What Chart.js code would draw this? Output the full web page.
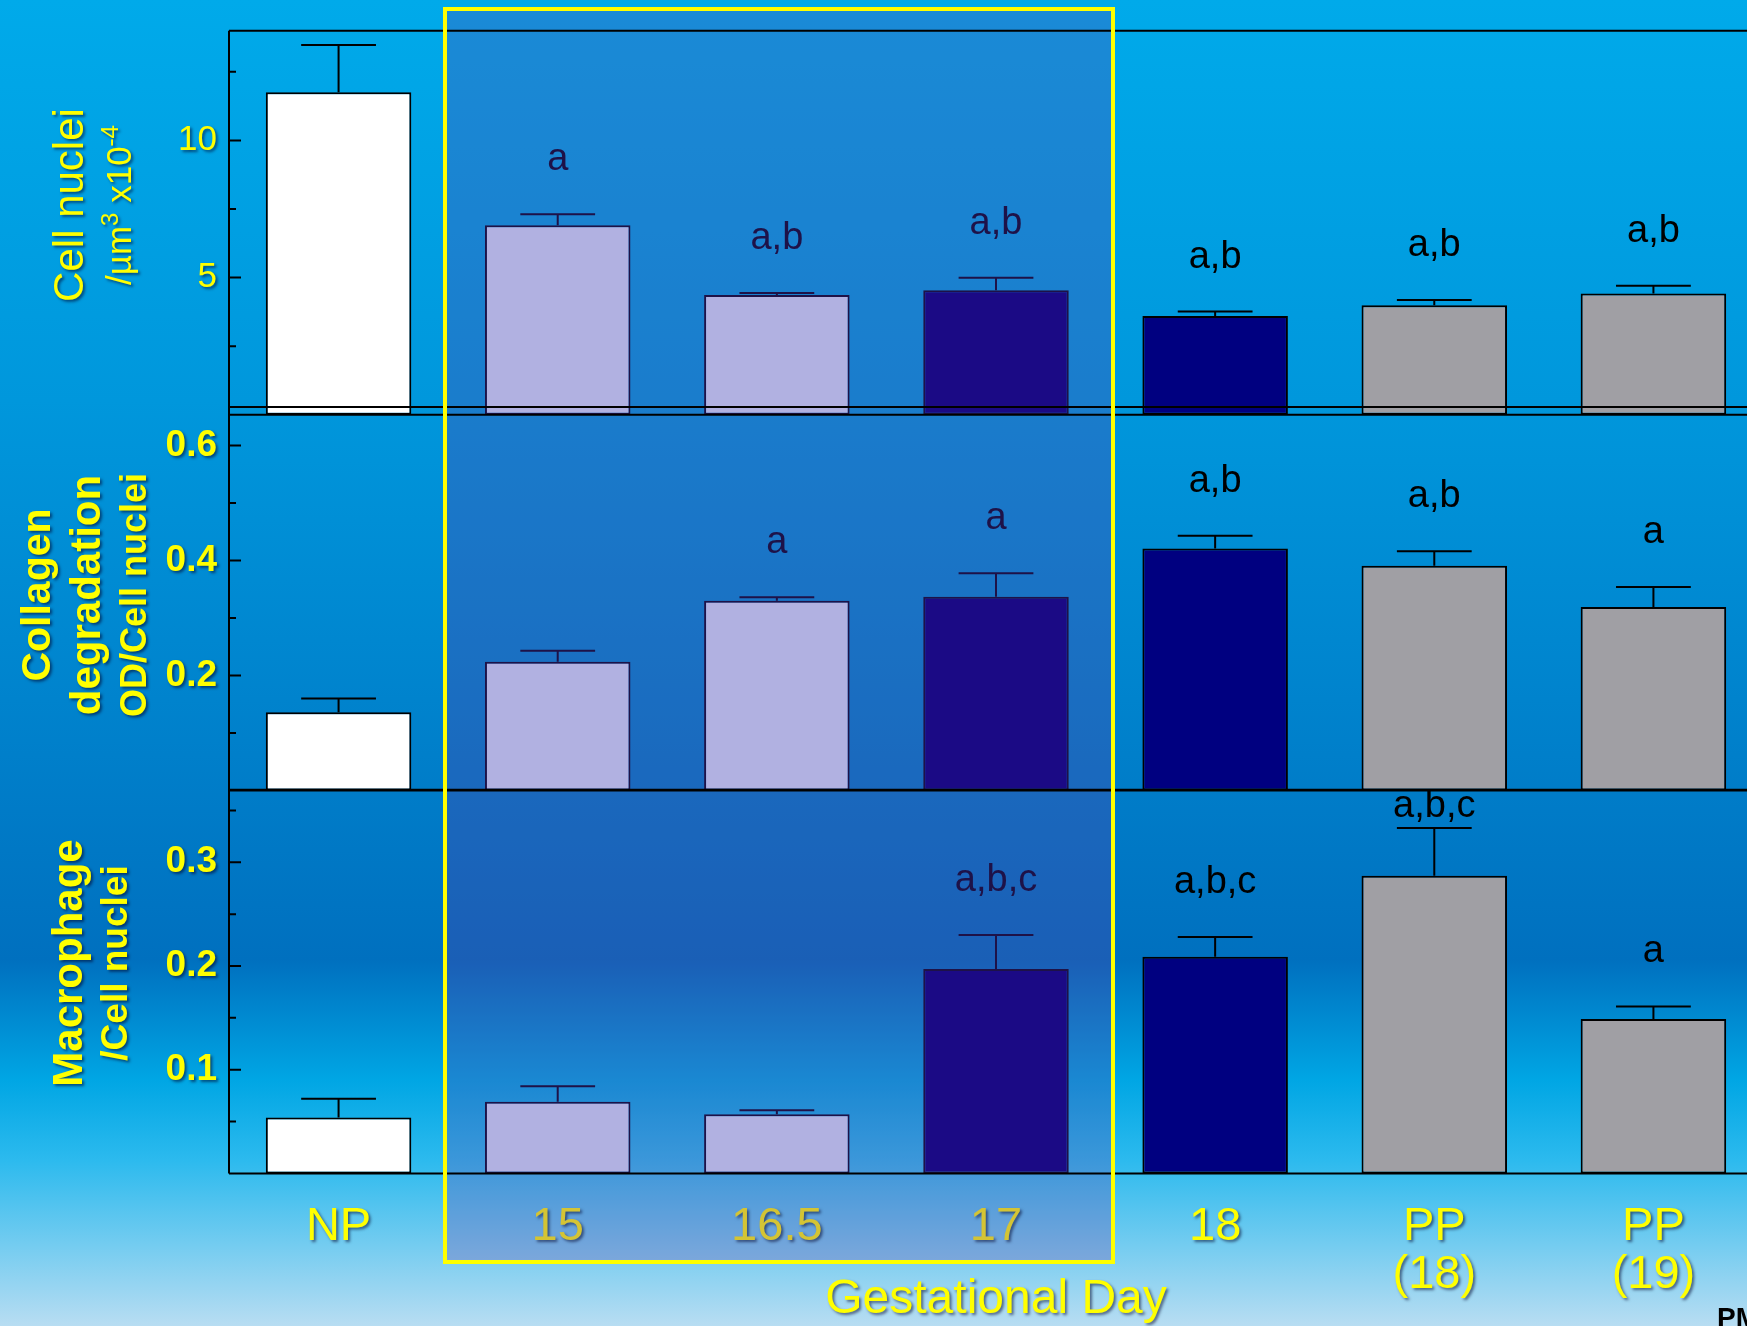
<!DOCTYPE html>
<html>
<head>
<meta charset="utf-8">
<script src="https://cdn.jsdelivr.net/npm/chart.js@4.4.1/dist/chart.umd.min.js"></script>
<style>
    html, body { margin: 0; padding: 0; width: 1747px; height: 1326px; overflow: hidden; }
    body {
        position: relative;
        font-family: 'Liberation Sans', Arial, sans-serif;
        background: linear-gradient(to bottom, #00aaea 0px, #0097dc 400px, #0083cd 700px, #0070bf 960px,
                                    #00a6e4 1080px, #2cbaee 1160px, #b8ddf2 1326px);
    }
    canvas { position: absolute; left: 0; }
    #boxFill { position: absolute; left: 443px; top: 7px; width: 672px; height: 1257px; background: rgba(109, 42, 156, 0.24); }
    #boxEdge { position: absolute; left: 443px; top: 7px; width: 672px; height: 1257px; border: 4px solid #ffff00; box-sizing: border-box; }
    #corner { position: absolute; left: 1717px; top: 1302px; font: bold 28px 'Liberation Sans', Arial, sans-serif; color: #000; }
</style>
</head>
<body>
<div id="boxFill"></div>
<canvas id="nuclei" width="1800" height="430" style="top:0px"></canvas>
<canvas id="collagen" width="1800" height="400" style="top:400px"></canvas>
<canvas id="macro" width="1800" height="560" style="top:780px"></canvas>
<div id="boxEdge"></div>
<div id="corner">PM</div>
<script>
const categories = ['NP', '15', '16.5', '17', '18', ['PP', '(18)'], ['PP', '(19)']];
const boxedDays = ['15', '16.5', '17'];

// cell nuclei /um3 x10^-4
const nucleiMean = [11.76, 6.91, 4.36, 4.54, 3.60, 3.99, 4.42];
const nucleiSem = [1.72, 0.40, 0.08, 0.45, 0.16, 0.19, 0.28];
const nucleiMarks = ['', 'a', 'a,b', 'a,b', 'a,b', 'a,b', 'a,b'];

// collagen degradation OD / cell nuclei
const collagenMean = [0.136, 0.224, 0.330, 0.337, 0.421, 0.391, 0.319];
const collagenSem = [0.024, 0.019, 0.006, 0.041, 0.022, 0.025, 0.035];
const collagenMarks = ['', '', 'a', 'a', 'a,b', 'a,b', 'a'];

// macrophage / cell nuclei
const macroMean = [0.054, 0.069, 0.057, 0.197, 0.209, 0.287, 0.149];
const macroSem = [0.018, 0.015, 0.004, 0.033, 0.019, 0.046, 0.012];
const macroMarks = ['', '', '', 'a,b,c', 'a,b,c', 'a,b,c', 'a'];

const FONT = "'Liberation Sans', Arial, sans-serif";
Chart.defaults.font.family = FONT;

const inBox = categories.map(c => boxedDays.includes(c));
const ink = inBox.map(b => b ? '#1e1248' : '#000000');
const fillColors = ['#ffffff', '#b1b1e1', '#b1b1e1', '#1b0a85', '#000080', '#a09fa4', '#a09fa4'];

const panelPlugin = {
    id: 'panel',
    beforeDraw(chart) {
        const ctx = chart.ctx;
        ctx.shadowColor = 'rgba(0,0,40,0.55)';
        ctx.shadowOffsetX = 2;
        ctx.shadowOffsetY = 2;
        ctx.shadowBlur = 3;
    },
    beforeDatasetsDraw(chart) {
        const ctx = chart.ctx;
        ctx.shadowColor = 'rgba(0,0,0,0)';
        ctx.shadowOffsetX = 0;
        ctx.shadowOffsetY = 0;
        ctx.shadowBlur = 0;
    },
    afterDatasetsDraw(chart, args, opts) {
        const { ctx, chartArea: area } = chart;
        const y = chart.scales.y;
        const ds = chart.data.datasets[0];
        const meta = chart.getDatasetMeta(0);
        ctx.save();

        meta.data.forEach((bar, i) => {
            const top = y.getPixelForValue(ds.data[i] + ds.sem[i]);
            const half = bar.width * 0.257;
            ctx.strokeStyle = ink[i];
            ctx.lineWidth = 2;
            ctx.beginPath();
            ctx.moveTo(bar.x, bar.y);
            ctx.lineTo(bar.x, top);
            ctx.moveTo(bar.x - half, top);
            ctx.lineTo(bar.x + half, top);
            ctx.stroke();
            if (ds.marks[i]) {
                ctx.fillStyle = ink[i];
                ctx.font = '38px ' + FONT;
                ctx.textAlign = 'center';
                ctx.textBaseline = 'alphabetic';
                const base = Math.max(top - 44, area.top + 27);
                ctx.fillText(ds.marks[i], bar.x, base);
            }
        });

        // frame + inward ticks
        ctx.strokeStyle = '#000';
        ctx.lineWidth = 2;
        ctx.beginPath();
        ctx.moveTo(area.left, area.top);
        ctx.lineTo(chart.width, area.top);
        ctx.moveTo(area.left, area.bottom);
        ctx.lineTo(chart.width, area.bottom);
        ctx.moveTo(area.left, area.top);
        ctx.lineTo(area.left, area.bottom);
        for (let k = 0; k * opts.minor <= y.max + 1e-9; k++) {
            const py = y.getPixelForValue(k * opts.minor);
            const len = k % opts.per === 0 ? 12 : 7;
            ctx.moveTo(area.left, py);
            ctx.lineTo(area.left + len, py);
        }
        ctx.stroke();
        ctx.restore();
    },
    afterDraw(chart, args, opts) {
        const ctx = chart.ctx;
        ctx.save();
        ctx.fillStyle = '#ffff00';
        ctx.shadowColor = 'rgba(0,0,40,0.55)';
        ctx.shadowOffsetX = 2;
        ctx.shadowOffsetY = 2;
        ctx.shadowBlur = 3;
        opts.lines.forEach(line => {
            ctx.save();
            ctx.translate(line.x, opts.centerY);
            ctx.rotate(-Math.PI / 2);
            let total = 0;
            line.parts.forEach(p => { ctx.font = p.font; total += ctx.measureText(p.text).width; });
            let pos = -total / 2;
            ctx.textAlign = 'left';
            ctx.textBaseline = 'alphabetic';
            line.parts.forEach(p => {
                ctx.font = p.font;
                ctx.fillText(p.text, pos, -(p.raise || 0));
                pos += ctx.measureText(p.text).width;
            });
            ctx.restore();
        });
        ctx.restore();
    }
};

// label only the major steps, minor steps stay blank
function tickLabel(major, digits) {
    return function (value) {
        const r = value / major;
        if (value === 0 || Math.abs(r - Math.round(r)) > 1e-6) return null;
        return value.toFixed(digits);
    };
}

function makePanel(id, mean, sem, marks, cfg) {
    return new Chart(document.getElementById(id), {
        type: 'bar',
        data: {
            labels: categories,
            datasets: [{
                data: mean,
                sem: sem,
                marks: marks,
                backgroundColor: fillColors,
                borderColor: ink,
                borderWidth: 2,
                borderSkipped: false,
                barPercentage: 0.664,
                categoryPercentage: 1
            }]
        },
        options: {
            responsive: false,
            animation: false,
            layout: { padding: cfg.padding, autoPadding: false },
            plugins: {
                legend: { display: false },
                tooltip: { enabled: false },
                panel: { minor: cfg.minor, per: cfg.per, centerY: cfg.centerY, lines: cfg.lines }
            },
            scales: {
                x: cfg.x || { display: false },
                y: {
                    min: 0,
                    max: cfg.max,
                    afterFit: s => {
                        s.width = 229;
                        s.paddingTop = 0;
                        s.paddingBottom = 0;
                    },
                    grid: { display: false, drawTicks: false },
                    border: { display: false },
                    ticks: {
                        stepSize: cfg.minor,
                        includeBounds: false,
                        padding: 12,
                        color: '#ffff00',
                        font: cfg.tickFont,
                        callback: tickLabel(cfg.minor * cfg.per, cfg.digits)
                    }
                }
            }
        },
        plugins: [panelPlugin]
    });
}

makePanel('nuclei', nucleiMean, nucleiSem, nucleiMarks, {
    padding: { top: 30.7, bottom: 15.3, left: 0, right: 37 },
    max: 14, digits: 0, minor: 2.5, per: 2,
    tickFont: { size: 35 },
    centerY: 205,
    lines: [
        { x: 83, parts: [{ text: 'Cell nuclei', font: '42px ' + FONT }] },
        { x: 131, parts: [
            { text: '/µm', font: '35px ' + FONT },
            { text: '3', font: '24px ' + FONT, raise: 13 },
            { text: ' x10', font: '35px ' + FONT },
            { text: '-4', font: '24px ' + FONT, raise: 13 }
        ] }
    ]
});

makePanel('collagen', collagenMean, collagenSem, collagenMarks, {
    padding: { top: 7, bottom: 9.5, left: 0, right: 37 },
    max: 0.667, digits: 1, minor: 0.1, per: 2,
    tickFont: { size: 37, weight: 'bold' },
    centerY: 195,
    lines: [
        { x: 50, parts: [{ text: 'Collagen', font: 'bold 41px ' + FONT }] },
        { x: 100, parts: [{ text: 'degradation', font: 'bold 42px ' + FONT }] },
        { x: 146, parts: [{ text: 'OD/Cell nuclei', font: 'bold 36px ' + FONT }] }
    ]
});

makePanel('macro', macroMean, macroSem, macroMarks, {
    padding: { top: 9.7, bottom: 0, left: 0, right: 37 },
    max: 0.37, digits: 1, minor: 0.05, per: 2,
    tickFont: { size: 37, weight: 'bold' },
    centerY: 183,
    lines: [
        { x: 82, parts: [{ text: 'Macrophage', font: 'bold 42px ' + FONT }] },
        { x: 127, parts: [{ text: '/Cell nuclei', font: 'bold 37px ' + FONT }] }
    ],
    x: {
        afterFit: s => {
            s.height = 166.6;
            s.paddingLeft = 0;
            s.paddingRight = 0;
        },
        grid: { display: false, drawTicks: false },
        border: { display: false },
        ticks: {
            color: c => inBox[c.index] ? '#d4c434' : '#ffff00',
            font: { size: 47, lineHeight: 1.03 },
            padding: 29,
            maxRotation: 0,
            autoSkip: false
        },
        title: {
            display: true,
            text: 'Gestational Day',
            color: '#ffff00',
            font: { size: 48 },
            padding: { top: 0, bottom: 11.5 }
        }
    }
});
</script>
</body>
</html>
